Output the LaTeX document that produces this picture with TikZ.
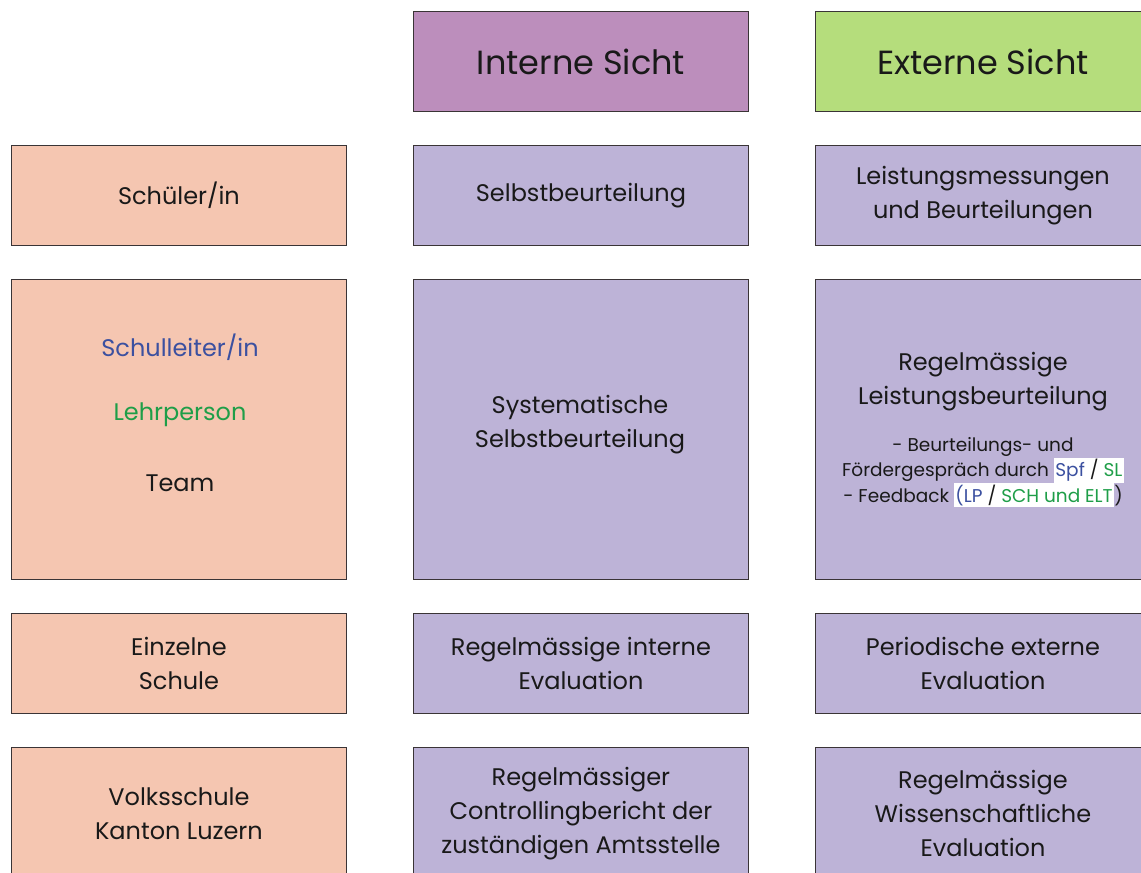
\documentclass[tikz,border=0pt]{standalone}
\usepackage{fontspec}
\setmainfont{Poppins}
\definecolor{hdrI}{HTML}{BC8EBC}
\definecolor{hdrE}{HTML}{B5DD7C}
\definecolor{salmon}{HTML}{F5C6B1}
\definecolor{lav}{HTML}{BDB3D7}
\definecolor{tblue}{HTML}{3B50A0}
\definecolor{tgreen}{HTML}{1E9E48}
\definecolor{edge}{HTML}{3A3436}
\begin{document}
\begin{tikzpicture}[x=1pt,y=-1pt,
  box/.style={draw=edge, line width=0.9pt, minimum width=335pt, inner sep=0pt, anchor=north west, align=center, font=\fontsize{24}{34}\selectfont, text=black!90},
  hdr/.style={box, minimum height=100pt, font=\fontsize{33.5}{38}\selectfont},
  lbox/.style={box, fill=salmon},
  mbox/.style={box, fill=lav},
  lbl/.style={align=center, inner sep=0pt, font=\fontsize{24}{34}\selectfont, text=black!90},
  small/.style={align=center, inner sep=0pt, font=\fontsize{18.5}{25.5}\selectfont, text=black!90}]
\useasboundingbox (0,0) rectangle (1141,873);
\clip (0,0) rectangle (1141,873);
\setlength{\fboxsep}{1.5pt}
% headers
\node[hdr, fill=hdrI] (hI) at (413,11) {Interne Sicht};
\node[hdr, fill=hdrE] (hE) at (815,11) {Externe Sicht};
% row 1
\node[lbox, minimum height=100pt] (l1) at (11,145) {Schüler/in};
\node[mbox, minimum height=100pt] (m1) at (413,145) {Selbstbeurteilung};
\node[mbox, minimum height=100pt] (r1) at (815,145) {Leistungsmessungen\\und Beurteilungen};
% row 2
\node[lbox, minimum height=300pt] (l2) at (11,279) {};
\node[mbox, minimum height=300pt] (m2) at (413,279) {};
\node[mbox, minimum height=300pt] (r2) at (815,279) {};
\node[lbl, text=tblue] (t2a) at (180,347) {Schulleiter/in};
\node[lbl, text=tgreen] (t2b) at (180,415) {Lehrperson};
\node[lbl] (t2c) at (180,483) {Team};
\node[lbl] (t2m) at (580,425) {Systematische\\Selbstbeurteilung};
\node[lbl] (t2r) at (983,382) {Regelmässige\\Leistungsbeurteilung};
\node[small] (t2s) at (983,472) {- Beurteilungs- und\\Fördergespräch durch \colorbox{white}{\textcolor{tblue}{Spf} / \textcolor{tgreen}{SL}}\\- Feedback \colorbox{white}{\textcolor{tblue}{(LP} / \textcolor{tgreen}{SCH und ELT}})};
% row 3
\node[lbox, minimum height=100pt] (l3) at (11,613) {Einzelne\\Schule};
\node[mbox, minimum height=100pt] (m3) at (413,613) {Regelmässige interne\\Evaluation};
\node[mbox, minimum height=100pt] (r3) at (815,613) {Periodische externe\\Evaluation};
% row 4
\node[lbox, minimum height=132pt] (l4) at (11,747) {Volksschule\\Kanton Luzern};
\node[mbox, minimum height=132pt] (m4) at (413,747) {Regelmässiger\\Controllingbericht der\\zuständigen Amtsstelle};
\node[mbox, minimum height=132pt] (r4) at (815,747) {Regelmässige\\Wissenschaftliche\\Evaluation};
\end{tikzpicture}
\end{document}
